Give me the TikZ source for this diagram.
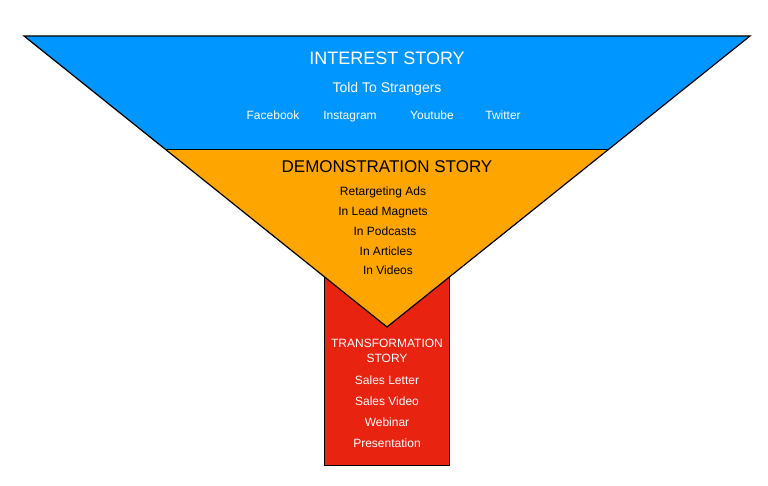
\documentclass[tikz,border=0pt]{standalone}
\usepackage{fontspec}
\setmainfont{Liberation Sans}
\begin{document}
\begin{tikzpicture}[x=1pt,y=-1pt,
  t/.style={font=\fontsize{#1}{#1}\selectfont, inner sep=0pt, text height=0.72em, text depth=0.2em, yshift=-2pt},
  w/.style={t=#1, text=white},
  k/.style={t=#1, text=black}]
\useasboundingbox (0,0) rectangle (768,486);
\definecolor{fblue}{RGB}{0,150,255}
\definecolor{forange}{RGB}{255,165,0}
\definecolor{fred}{RGB}{232,35,15}
\draw[fill=fred, line width=1pt] (324,275) rectangle (449,465);
\fill[forange] (165,149) -- (609,149) -- (387,327) -- cycle;
\fill[fblue] (24,36) -- (750,36) -- (609,149) -- (165,149) -- cycle;
\draw[line width=0.8pt] (165,149) -- (609,149);
\draw[line width=1.2pt, line join=miter] (24,36) -- (750,36) -- (387,327) -- cycle;
\node[w=18] (a) at (387,60) {INTEREST STORY};
\node[w=14] (b) at (387,88) {Told To Strangers};
\node[w=12] (c) at (273,115) {Facebook};
\node[w=12] (d) at (350,115) {Instagram};
\node[w=12] (e) at (432,115) {Youtube};
\node[w=12] (f) at (503,115) {Twitter};
\node[k=17] (g) at (387,168) {DEMONSTRATION STORY};
\node[k=12] (h) at (383,191) {Retargeting Ads};
\node[k=12] (i) at (383,211) {In Lead Magnets};
\node[k=12] (j) at (385,231) {In Podcasts};
\node[k=12] (l) at (386,251) {In Articles};
\node[k=12] (m) at (388,270) {In Videos};
\node[w=12] (n) at (387,343) {TRANSFORMATION};
\node[w=12] (o) at (387,358) {STORY};
\node[w=12] (p) at (387,380) {Sales Letter};
\node[w=12] (q) at (387,401) {Sales Video};
\node[w=12] (r) at (387,422) {Webinar};
\node[w=12] (s) at (387,443) {Presentation};
\end{tikzpicture}
\end{document}
